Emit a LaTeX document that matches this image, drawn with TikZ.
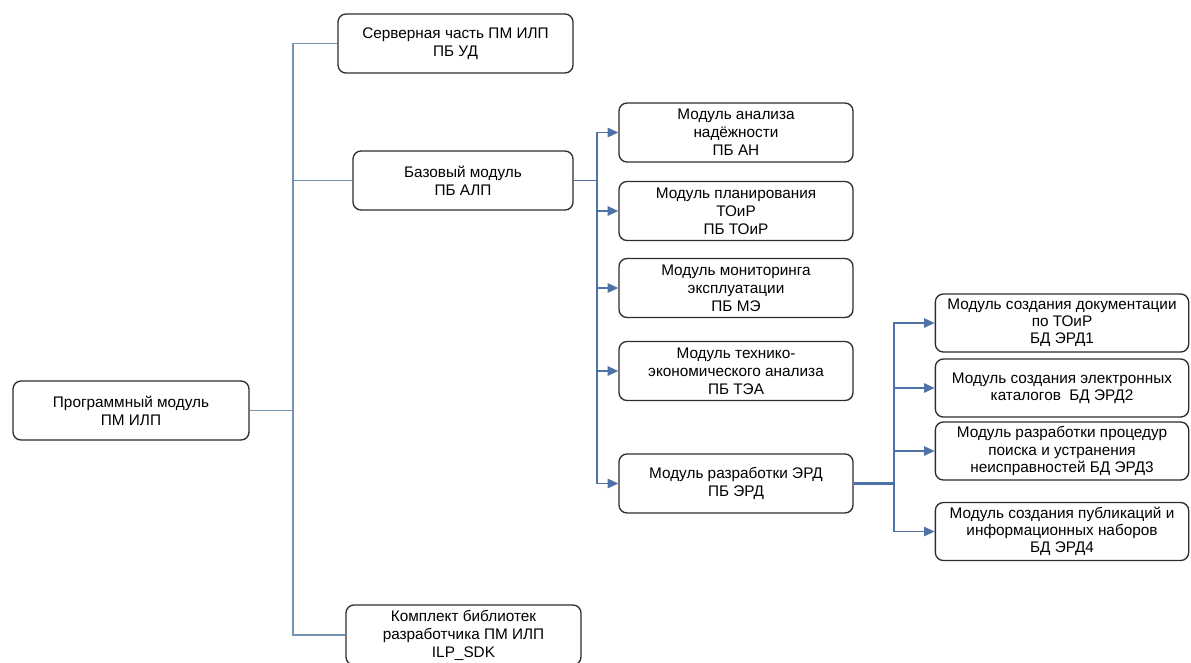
\documentclass[tikz,border=0pt]{standalone}
\usepackage{fontspec}
\setmainfont{Liberation Sans}
\usepackage{tikz}
\usetikzlibrary{arrows.meta}

\definecolor{linkblue}{RGB}{78,114,168}
\definecolor{linkgray}{RGB}{118,146,178}
\definecolor{boxline}{RGB}{45,45,45}

\begin{document}
\begin{tikzpicture}[
  x=0.75pt, y=-0.75pt,
  font=\fontsize{11.5}{13.5}\selectfont,
  box/.style={draw=boxline, line width=1pt, rounded corners=6pt, fill=white, align=center, inner sep=2pt, minimum height=44.25pt},
  rootbox/.style={box, minimum width=177pt},
  topbox/.style={box, minimum width=176.25pt},
  midbox/.style={box, minimum width=175.5pt},
  leafbox/.style={box, minimum width=190pt, minimum height=43.5pt, font=\fontsize{11.5}{12.8}\selectfont},
  trunk/.style={draw=linkgray, line width=1.4pt},
  arr/.style={draw=linkblue, line width=1.4pt, -{Triangle[length=8pt,width=7pt]}}
]
\useasboundingbox (0,0) rectangle (1191,662);

% level 1
\node[rootbox] (root) at (131,410.5) {Программный модуль\\ПМ ИЛП};

% level 2
\node[topbox] (server) at (455.5,43.5) {Серверная часть ПМ ИЛП\\ПБ УД};
\node[box, minimum width=165pt] (base) at (463,180.5) {Базовый модуль\\ПБ АЛП};
\node[topbox, minimum height=45pt] (sdk) at (463.5,635) {Комплект библиотек\\разработчика ПМ ИЛП\\ILP\_SDK};

% level 3
\node[midbox] (ah)   at (736,132.5) {Модуль анализа\\надёжности\\ПБ АН};
\node[midbox] (toir) at (736,211)   {Модуль планирования\\ТОиР\\ПБ ТОиР};
\node[midbox] (me)   at (736,288)   {Модуль мониторинга\\эксплуатации\\ПБ МЭ};
\node[midbox] (tea)  at (736,371)   {Модуль технико-\\экономического анализа\\ПБ ТЭА};
\node[midbox] (erd)  at (736,483.5) {Модуль разработки ЭРД\\ПБ ЭРД};

% level 4
\node[leafbox] (erd1) at (1062,323)   {Модуль создания документации\\по ТОиР\\БД ЭРД1};
\node[leafbox] (erd2) at (1062,388)   {Модуль создания электронных\\каталогов~ БД ЭРД2};
\node[leafbox] (erd3) at (1062,451)   {Модуль разработки процедур\\поиска и устранения\\неисправностей БД ЭРД3};
\node[leafbox] (erd4) at (1062,531.5) {Модуль создания публикаций и\\информационных наборов\\БД ЭРД4};

% trunks
\coordinate (t1) at (293,0);
\coordinate (t2) at (597,0);
\coordinate (t3) at (894,0);

\foreach \c in {server,base,sdk}
  \draw[trunk] (root.east) -- (root.east -| t1) |- (\c.west);
\foreach \c in {ah,toir,me,tea,erd}
  \draw[arr] (base.east) -- (base.east -| t2) |- (\c.west);
\draw[draw=linkblue, line width=2.2pt] (erd.east) -- (erd.east -| t3);
\foreach \c in {erd1,erd2,erd3,erd4}
  \draw[arr] (erd.east) -- (erd.east -| t3) |- (\c.west);
\end{tikzpicture}
\end{document}
